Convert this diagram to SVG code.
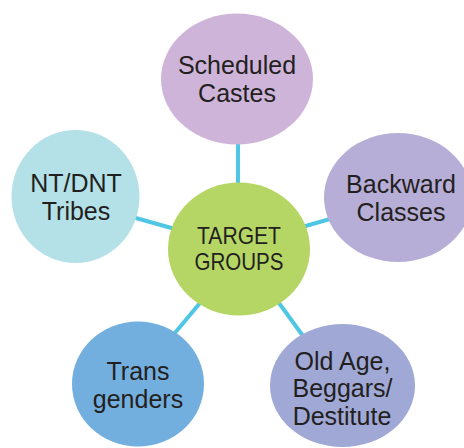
<svg xmlns="http://www.w3.org/2000/svg" width="464" height="448" viewBox="0 0 464 448">
<style>
.lbl{font-family:"Liberation Sans",Arial,sans-serif;font-size:25px;fill:#231f20;text-anchor:middle}
.ctr{font-size:24px}
.conn line{stroke:#4fc6e4;stroke-width:4;stroke-linecap:butt}
</style>
<rect width="464" height="448" fill="#ffffff"/>
<g id="connectors" class="conn">
<line x1="238" y1="142" x2="238" y2="185"/>
<line x1="304" y1="226.5" x2="330" y2="219"/>
<line x1="134" y1="217.5" x2="175" y2="229"/>
<line x1="174" y1="334" x2="200" y2="303"/>
<line x1="279" y1="303" x2="303" y2="336"/>
</g>
<g id="scheduled-castes">
<ellipse cx="237" cy="79" rx="76" ry="65.5" fill="#cfb4d9"/>
<text class="lbl" x="237" y="74">Scheduled</text>
<text class="lbl" x="237" y="101.5">Castes</text>
</g>
<g id="backward-classes">
<ellipse cx="398" cy="197.5" rx="74" ry="64.5" fill="#b6aed6"/>
<text class="lbl" x="401" y="192.5">Backward</text>
<text class="lbl" x="401" y="220.5">Classes</text>
</g>
<g id="nt-dnt-tribes">
<ellipse cx="75.5" cy="196.5" rx="64" ry="66.5" fill="#b4e1e7"/>
<text class="lbl" x="76" y="191.5">NT/DNT</text>
<text class="lbl" x="76" y="219.5">Tribes</text>
</g>
<g id="target-groups">
<ellipse cx="239" cy="249" rx="71" ry="66.5" fill="#b5d664"/>
<text class="lbl ctr" x="239" y="244" textLength="84" lengthAdjust="spacingAndGlyphs">TARGET</text>
<text class="lbl ctr" x="239" y="270" textLength="89" lengthAdjust="spacingAndGlyphs">GROUPS</text>
</g>
<g id="transgenders">
<ellipse cx="138" cy="384" rx="66" ry="62.5" fill="#73afde"/>
<text class="lbl" x="138" y="380">Trans</text>
<text class="lbl" x="138" y="408">genders</text>
</g>
<g id="old-age-beggars-destitute">
<ellipse cx="342.5" cy="385.5" rx="72.5" ry="61.5" fill="#a0a8d6"/>
<text class="lbl" x="342.5" y="370">Old Age,</text>
<text class="lbl" x="342.5" y="397">Beggars/</text>
<text class="lbl" x="342" y="425">Destitute</text>
</g>
</svg>
